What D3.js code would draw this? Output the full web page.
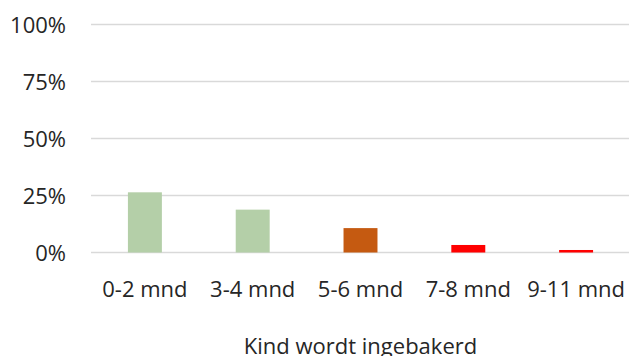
<!DOCTYPE html>
<html>
<head>
<meta charset="utf-8">
<script src="https://cdn.jsdelivr.net/npm/d3@7"></script>
<style>
  html, body { margin: 0; padding: 0; background: #fff; }
  svg text { font-family: "Open Sans", "Noto Sans", sans-serif; fill: #262626; }
</style>
</head>
<body>
<svg id="chart" width="629" height="356"></svg>
<script>
// Share of children swaddled, by age group
const categories = ["0-2 mnd", "3-4 mnd", "5-6 mnd", "7-8 mnd", "9-11 mnd"];
const values = [0.264, 0.188, 0.107, 0.033, 0.011];
const barColors = ["#b4cfa8", "#b4cfa8", "#c55a11", "#ff0000", "#ff0000"];
const yTicks = [0, 0.25, 0.5, 0.75, 1];
const axisTitle = "Kind wordt ingebakerd";

(function () {
  const svg = d3.select("#chart");
  const W = 629;
  const fontSize = 22;
  const plotLeft = 91, plotRight = 630, plotTop = 24.5, plotBottom = 252.5;

  const x = d3.scaleBand().domain(categories).range([plotLeft, plotRight])
    .paddingInner(0.685).paddingOuter(0.3425);
  const y = d3.scaleLinear().domain([0, 1]).range([plotBottom, plotTop]);

  // gridlines
  svg.append("g")
    .selectAll("line")
    .data(yTicks)
    .join("line")
    .attr("x1", plotLeft).attr("x2", W)
    .attr("y1", d => y(d)).attr("y2", d => y(d))
    .attr("stroke", "#d9d9d9")
    .attr("stroke-width", 1.5);

  // y labels
  const yAxis = d3.axisLeft(y).tickValues(yTicks).tickFormat(d3.format(".0%")).tickSize(0).tickPadding(0);
  const gy = svg.append("g").attr("transform", "translate(66,0)").call(yAxis);
  gy.select(".domain").remove();
  gy.selectAll("text").attr("font-size", fontSize).attr("dy", "0.38em");

  // bars
  svg.append("g")
    .selectAll("rect")
    .data(values)
    .join("rect")
    .attr("x", (d, i) => x(categories[i]))
    .attr("width", x.bandwidth())
    .attr("y", d => y(d))
    .attr("height", d => y(0) - y(d))
    .attr("fill", (d, i) => barColors[i]);

  // x labels
  const xAxis = d3.axisBottom(x).tickSize(0).tickPadding(0);
  const gx = svg.append("g").attr("transform", `translate(0,${plotBottom})`).call(xAxis);
  gx.select(".domain").remove();
  gx.selectAll("text").attr("font-size", fontSize).attr("dy", "0").attr("y", 44);

  // axis title
  svg.append("text")
    .attr("x", (plotLeft + plotRight) / 2)
    .attr("y", 353.5)
    .attr("text-anchor", "middle")
    .attr("font-size", fontSize)
    .text(axisTitle);
})();
</script>
</body>
</html>
